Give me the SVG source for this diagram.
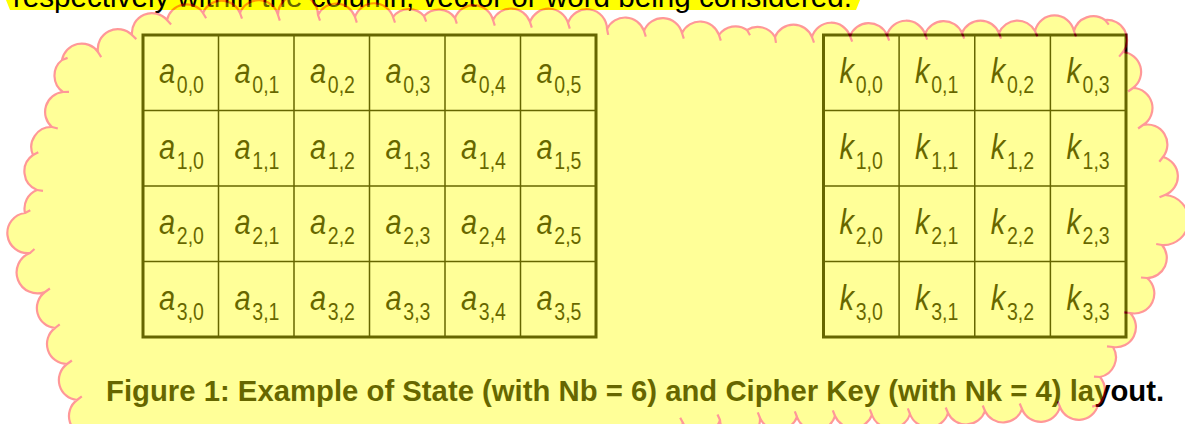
<svg xmlns="http://www.w3.org/2000/svg" width="1185" height="424" viewBox="0 0 1185 424">
<style>
.t{font-family:"Liberation Sans",Arial,sans-serif;fill:#000}
.c{font-family:"Liberation Sans",Arial,sans-serif;font-size:35px;font-style:italic;fill:#000}
.s{font-size:23.5px;font-style:normal}
.ob{fill:none;stroke:#000;stroke-width:3}
.ln{stroke:#000;stroke-width:1.5}
.cl{fill:#ffff00;stroke:#ff0000;stroke-width:2.2;stroke-linejoin:round}
.tk{fill:none;stroke:#ff0000;stroke-width:2.2;stroke-linecap:butt}
</style>
<rect width="1185" height="424" fill="#fff"/>
<g id="intro">
<path d="M6,0 L860,0 L856,10 L10,10 Z" fill="#ffff00"/>
<text class="t" x="13" y="7" font-size="29.6">respectively within the column, vector or word being considered.</text>
</g>
<g id="state">
<rect class="ob" x="143" y="35" width="453" height="302"/>
<path class="ln" d="M218.5,35V337M294,35V337M369.5,35V337M445,35V337M520.5,35V337M143,110.5H596M143,186H596M143,261.5H596"/>
<g id="state-r0">
<text class="c" transform="translate(159 83.3) scale(.83 1)">a<tspan class="s" dx="2" dy="10">0,0</tspan></text>
<text class="c" transform="translate(234.5 83.3) scale(.83 1)">a<tspan class="s" dx="2" dy="10">0,1</tspan></text>
<text class="c" transform="translate(310 83.3) scale(.83 1)">a<tspan class="s" dx="2" dy="10">0,2</tspan></text>
<text class="c" transform="translate(385.5 83.3) scale(.83 1)">a<tspan class="s" dx="2" dy="10">0,3</tspan></text>
<text class="c" transform="translate(461 83.3) scale(.83 1)">a<tspan class="s" dx="2" dy="10">0,4</tspan></text>
<text class="c" transform="translate(536.5 83.3) scale(.83 1)">a<tspan class="s" dx="2" dy="10">0,5</tspan></text>
</g>
<g id="state-r1">
<text class="c" transform="translate(159 158.8) scale(.83 1)">a<tspan class="s" dx="2" dy="10">1,0</tspan></text>
<text class="c" transform="translate(234.5 158.8) scale(.83 1)">a<tspan class="s" dx="2" dy="10">1,1</tspan></text>
<text class="c" transform="translate(310 158.8) scale(.83 1)">a<tspan class="s" dx="2" dy="10">1,2</tspan></text>
<text class="c" transform="translate(385.5 158.8) scale(.83 1)">a<tspan class="s" dx="2" dy="10">1,3</tspan></text>
<text class="c" transform="translate(461 158.8) scale(.83 1)">a<tspan class="s" dx="2" dy="10">1,4</tspan></text>
<text class="c" transform="translate(536.5 158.8) scale(.83 1)">a<tspan class="s" dx="2" dy="10">1,5</tspan></text>
</g>
<g id="state-r2">
<text class="c" transform="translate(159 234.3) scale(.83 1)">a<tspan class="s" dx="2" dy="10">2,0</tspan></text>
<text class="c" transform="translate(234.5 234.3) scale(.83 1)">a<tspan class="s" dx="2" dy="10">2,1</tspan></text>
<text class="c" transform="translate(310 234.3) scale(.83 1)">a<tspan class="s" dx="2" dy="10">2,2</tspan></text>
<text class="c" transform="translate(385.5 234.3) scale(.83 1)">a<tspan class="s" dx="2" dy="10">2,3</tspan></text>
<text class="c" transform="translate(461 234.3) scale(.83 1)">a<tspan class="s" dx="2" dy="10">2,4</tspan></text>
<text class="c" transform="translate(536.5 234.3) scale(.83 1)">a<tspan class="s" dx="2" dy="10">2,5</tspan></text>
</g>
<g id="state-r3">
<text class="c" transform="translate(159 309.8) scale(.83 1)">a<tspan class="s" dx="2" dy="10">3,0</tspan></text>
<text class="c" transform="translate(234.5 309.8) scale(.83 1)">a<tspan class="s" dx="2" dy="10">3,1</tspan></text>
<text class="c" transform="translate(310 309.8) scale(.83 1)">a<tspan class="s" dx="2" dy="10">3,2</tspan></text>
<text class="c" transform="translate(385.5 309.8) scale(.83 1)">a<tspan class="s" dx="2" dy="10">3,3</tspan></text>
<text class="c" transform="translate(461 309.8) scale(.83 1)">a<tspan class="s" dx="2" dy="10">3,4</tspan></text>
<text class="c" transform="translate(536.5 309.8) scale(.83 1)">a<tspan class="s" dx="2" dy="10">3,5</tspan></text>
</g>
</g>
<g id="key">
<rect class="ob" x="823.5" y="35" width="302.5" height="302"/>
<path class="ln" d="M899.1,35V337M974.75,35V337M1050.4,35V337M823.5,110.5H1126M823.5,186H1126M823.5,261.5H1126"/>
<g id="key-r0">
<text class="c" transform="translate(839.5 83.3) scale(.83 1)">k<tspan class="s" dx="2" dy="10">0,0</tspan></text>
<text class="c" transform="translate(915.1 83.3) scale(.83 1)">k<tspan class="s" dx="2" dy="10">0,1</tspan></text>
<text class="c" transform="translate(990.75 83.3) scale(.83 1)">k<tspan class="s" dx="2" dy="10">0,2</tspan></text>
<text class="c" transform="translate(1066.4 83.3) scale(.83 1)">k<tspan class="s" dx="2" dy="10">0,3</tspan></text>
</g>
<g id="key-r1">
<text class="c" transform="translate(839.5 158.8) scale(.83 1)">k<tspan class="s" dx="2" dy="10">1,0</tspan></text>
<text class="c" transform="translate(915.1 158.8) scale(.83 1)">k<tspan class="s" dx="2" dy="10">1,1</tspan></text>
<text class="c" transform="translate(990.75 158.8) scale(.83 1)">k<tspan class="s" dx="2" dy="10">1,2</tspan></text>
<text class="c" transform="translate(1066.4 158.8) scale(.83 1)">k<tspan class="s" dx="2" dy="10">1,3</tspan></text>
</g>
<g id="key-r2">
<text class="c" transform="translate(839.5 234.3) scale(.83 1)">k<tspan class="s" dx="2" dy="10">2,0</tspan></text>
<text class="c" transform="translate(915.1 234.3) scale(.83 1)">k<tspan class="s" dx="2" dy="10">2,1</tspan></text>
<text class="c" transform="translate(990.75 234.3) scale(.83 1)">k<tspan class="s" dx="2" dy="10">2,2</tspan></text>
<text class="c" transform="translate(1066.4 234.3) scale(.83 1)">k<tspan class="s" dx="2" dy="10">2,3</tspan></text>
</g>
<g id="key-r3">
<text class="c" transform="translate(839.5 309.8) scale(.83 1)">k<tspan class="s" dx="2" dy="10">3,0</tspan></text>
<text class="c" transform="translate(915.1 309.8) scale(.83 1)">k<tspan class="s" dx="2" dy="10">3,1</tspan></text>
<text class="c" transform="translate(990.75 309.8) scale(.83 1)">k<tspan class="s" dx="2" dy="10">3,2</tspan></text>
<text class="c" transform="translate(1066.4 309.8) scale(.83 1)">k<tspan class="s" dx="2" dy="10">3,3</tspan></text>
</g>
</g>
<g id="caption">
<text class="t" x="106" y="400.5" font-size="29.3" font-weight="bold">Figure 1: Example of State (with Nb = 6) and Cipher Key (with Nk = 4) layout.</text>
</g>
<g id="cloud" opacity="0.4">
<path class="cl" d="M683,423 L660,470 L90,470 L88,436
A20 20 0 0 1 77,400 A20 20 0 0 1 67,364 A20 20 0 0 1 55,328 A20 20 0 0 1 45,292 A20 20 0 0 1 30,253 A20 20 0 0 1 25,213 A20 20 0 0 1 37,190 A20 20 0 0 1 33,155 A20 20 0 0 1 52,127 A20 20 0 0 1 63,92 A20 20 0 0 1 62,60 A20 20 0 0 1 98,52 A20 20 0 0 1 132,35
A20 20 0 0 1 167,20 A20 20 0 0 1 203,13 A20 20 0 0 1 240,13 A20 20 0 0 1 278,15 A20 20 0 0 1 318,15 A20 20 0 0 1 355,17 A20 20 0 0 1 393,17 A20 20 0 0 1 424,16 A20 20 0 0 1 455,18 A20 20 0 0 1 493,20 A20 20 0 0 1 530,22 A20 20 0 0 1 568,23 A20 20 0 0 1 607,29 A20 20 0 0 1 644,31 A20 20 0 0 1 682,33 A20 20 0 0 1 719,35 A20 20 0 0 1 747,30 A20 20 0 0 1 775,37 A20 20 0 0 1 812,37 A20 20 0 0 1 850,36 A20 20 0 0 1 887,35 A20 20 0 0 1 925,34 A20 20 0 0 1 962,33 A20 20 0 0 1 999,33 A20 20 0 0 1 1035,31 A20 20 0 0 1 1074,31 A20 20 0 0 1 1105,20 A20 20 0 0 1 1123,52
A20 20 0 0 1 1133,88 A20 20 0 0 1 1143,125 A20 20 0 0 1 1163,157 A20 20 0 0 1 1165,195 A20 20 0 0 1 1162,245 A20 20 0 0 1 1147,278 A20 20 0 0 1 1130,313 A20 20 0 0 1 1113,347 A20 20 0 0 1 1100,377 A20 20 0 0 1 1098,405
A20 20 0 0 1 1060,407 A20 20 0 0 1 1022,409 A20 20 0 0 1 985,411 A20 20 0 0 1 948,413 A20 20 0 0 1 910,414 A20 20 0 0 1 872,415 A20 20 0 0 1 835,416 A20 20 0 0 1 797,417 A20 20 0 0 1 760,418 A20 20 0 0 1 720,420 A20 20 0 0 1 683,423 Z"/>
<path class="tk" d="M77,400l4.8,-3.6M67,364l4.9,-3.5M55,328l4.7,-3.7M45,292l4.9,-3.5M30,253l4.5,-4M25,213l5.3,-2.7M37,190l6,0.8M33,155l5.3,-2.8M52,127l5.8,1.5M63,92l6,-0.2M62,60l5.6,-2.1M98,52l3.2,5.1M132,35l4.3,4.1
M167,20l4.1,4.4M203,13l3.1,5.2M240,13l2,5.6M278,15l1.8,5.7M318,15l2,5.6M355,17l1.8,5.7M393,17l2,5.6M424,16l2.2,5.6M455,18l1.8,5.7M493,20l1.8,5.7M530,22l1.8,5.7M568,23l1.8,5.7M607,29l1.2,5.9M644,31l1.8,5.7M682,33l1.8,5.7M719,35l1.8,5.7M747,30l3,5.2M775,37l1,5.9M812,37l2,5.6M850,36l2.2,5.6M887,35l2.2,5.6M925,34l2.2,5.6M962,33l2.2,5.6M999,33l2,5.6M1035,31l2.4,5.5M1074,31l2,5.6M1105,20l3.8,4.6M1123,52l-3.9,4.6
M1133,88l-4.9,3.5M1143,125l-4.9,3.5M1163,157l-3.7,4.7M1165,195l-5.5,2.3M1162,245l-5.8,-1M1147,278l-6,-0.5M1130,313l-6,-0.6M1113,347l-6,-0.6M1100,377l-6,-0.4M1098,405l-5.8,1.6
M1060,407l-2.3,-5.5M1022,409l-2.3,-5.5M985,411l-2.3,-5.5M948,413l-2.3,-5.5M910,414l-2.2,-5.6M872,415l-2.2,-5.6M835,416l-2.2,-5.6M797,417l-2.2,-5.6M760,418l-2.2,-5.6M720,420l-2.5,-5.5M683,423l-2.8,-5.3"/>
</g>
</svg>
